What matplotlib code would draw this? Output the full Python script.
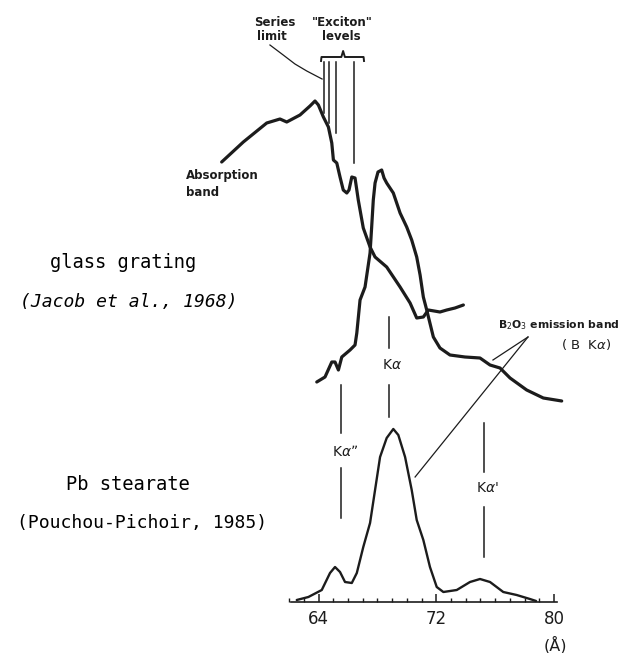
import numpy as np
import matplotlib
matplotlib.use("Agg")
import matplotlib.pyplot as plt

# wavelength (Angstrom) and intensity (arbitrary units)
abs_wl = [57.42, 58.89, 60.48, 61.38, 61.84, 62.74, 63.42, 63.76, 63.99, 64.33,
          64.67, 64.90, 65.01, 65.24, 65.46, 65.68, 65.92, 66.07, 66.26, 66.48,
          66.70, 67.04, 67.50, 67.84, 68.63, 69.54, 70.22, 70.67, 71.12, 71.46,
          72.25, 72.71, 73.27, 73.84]
abs_int = [440, 460, 479, 483, 480, 487, 496, 501, 497, 485,
           475, 459, 442, 439, 425, 412, 409, 412, 425, 424,
           402, 374, 355, 345, 335, 315, 299, 284, 285, 292,
           290, 292, 294, 297]

glass_wl = [63.88, 64.44, 64.90, 65.12, 65.35, 65.58, 66.14, 66.48, 66.60, 66.82,
            67.16, 67.50, 67.61, 67.72, 67.84, 68.04, 68.29, 68.45, 68.63, 69.08,
            69.54, 69.99, 70.33, 70.67, 70.90, 71.12, 71.35, 71.80, 72.25, 72.93,
            73.95, 74.97, 75.65, 76.33, 77.01, 78.14, 79.27, 80.52]
glass_int = [220, 225, 240, 240, 232, 245, 252, 257, 269, 302,
             315, 349, 375, 402, 419, 430, 432, 424, 419, 409,
             389, 375, 362, 345, 327, 305, 292, 265, 254, 247,
             245, 244, 237, 234, 224, 212, 204, 201]

pb_wl = [62.52, 63.31, 64.22, 64.78, 65.12, 65.46, 65.80, 66.26, 66.60, 67.04,
         67.50, 67.84, 68.18, 68.63, 69.08, 69.42, 69.88, 70.33, 70.67, 71.12,
         71.57, 72.03, 72.48, 73.39, 74.29, 74.97, 75.65, 76.55, 77.46, 78.36, 78.78]
pb_int = [2, 5, 12, 29, 35, 30, 20, 19, 29, 55,
          79, 112, 145, 164, 173, 167, 145, 112, 82, 62,
          35, 15, 10, 12, 20, 23, 20, 10, 7, 3, 1]

exciton_wl = [64.37, 64.73, 65.19, 66.41]
exciton_bottom = [489, 479, 469, 439]

# line positions: (label, wavelength, upper segment, label height, lower segment)
k_lines = [
    (r"K$\alpha$", 68.77, (285, 254), 237, (217, 185)),
    (r"K$\alpha$”", 65.55, (217, 169), 150, (134, 84)),
    (r"K$\alpha$'", 75.21, (179, 130), 114, (95, 45)),
]

ink = "#1c1c1c"
fig = plt.figure(figsize=(6.3, 6.53), dpi=100)
ax = fig.add_axes([0, 0, 1, 1])
ax.set_xlim(42.36, 85.16)
ax.set_ylim(-51, 602)

ax.plot(abs_wl, abs_int, color=ink, lw=2.3, solid_capstyle="round")
ax.plot(glass_wl, glass_int, color=ink, lw=2.3, solid_capstyle="round")
ax.plot(pb_wl, pb_int, color=ink, lw=1.7, solid_capstyle="round")

# exciton level marks + brace
for wl, bot in zip(exciton_wl, exciton_bottom):
    ax.plot([wl, wl], [540, bot], color=ink, lw=1.1)
ax.plot([64.17, 64.2, 65.55, 65.67, 65.79, 67.06, 67.09],
        [541, 545, 545, 551, 545, 545, 541], color=ink, lw=1.4)
ax.plot([60.7, 61.6, 62.4, 63.2, 64.24], [557, 547, 538, 531, 523], color=ink, lw=0.9)
lab = dict(ha="center", va="center", fontsize=8.5, fontweight="bold", color=ink)
ax.text(61.0, 580, "Series", **lab)
ax.text(60.8, 565, "limit", **lab)
ax.text(65.6, 580, "\"Exciton\"", **lab)
ax.text(65.55, 565, "levels", **lab)
lab_l = dict(lab, ha="left")
ax.text(55.0, 427, "Absorption", **lab_l)
ax.text(55.0, 410, "band", **lab_l)

for name, wl, up, ylab, low in k_lines:
    ax.plot([wl, wl], up, color=ink, lw=1.1)
    ax.plot([wl, wl], low, color=ink, lw=1.1)
    ax.text(wl + 0.25, ylab, name, ha="center", va="center", fontsize=10, color=ink)

# B2O3 emission band annotation
ax.text(76.2, 277, r"B$_2$O$_3$ emission band", ha="left", va="center",
        fontsize=7.8, fontweight="bold", color=ink)
ax.text(82.2, 257, r"( B  K$\alpha$)", ha="center", va="center", fontsize=9.5, color=ink)
ax.plot([78.23, 75.85], [265, 242], color=ink, lw=0.9)
ax.plot([78.23, 70.56], [265, 125], color=ink, lw=0.9)

mono = "DejaVu Sans Mono"
ax.text(50.75, 340, "glass grating", ha="center", va="center", fontsize=13.5, family=mono)
ax.text(51.1, 300, "(Jacob et al., 1968)", ha="center", va="center", fontsize=13,
        family=mono, style="italic")
ax.text(51.05, 117, "Pb stearate", ha="center", va="center", fontsize=13.5, family=mono)
ax.text(52.0, 79, "(Pouchou-Pichoir, 1985)", ha="center", va="center", fontsize=13,
        family=mono)

# wavelength axis
for s in ["top", "left", "right"]:
    ax.spines[s].set_visible(False)
ax.spines["bottom"].set_position(("data", 0))
ax.spines["bottom"].set_bounds(62.1, 80.2)
ax.spines["bottom"].set_linewidth(1.2)
ax.spines["bottom"].set_color(ink)
ax.set_xticks([64, 72, 80])
ax.set_xticks(np.arange(62, 81, 1), minor=True)
ax.tick_params(axis="x", which="major", direction="in", length=6, width=1.1,
               labelsize=12, pad=6, colors=ink)
ax.tick_params(axis="x", which="minor", direction="in", length=3, width=1.0, colors=ink)
ax.set_yticks([])
ax.text(80.1, -43, "(Å)", ha="center", va="center", fontsize=11.5, color=ink)

fig.savefig("out.png", dpi=100)
